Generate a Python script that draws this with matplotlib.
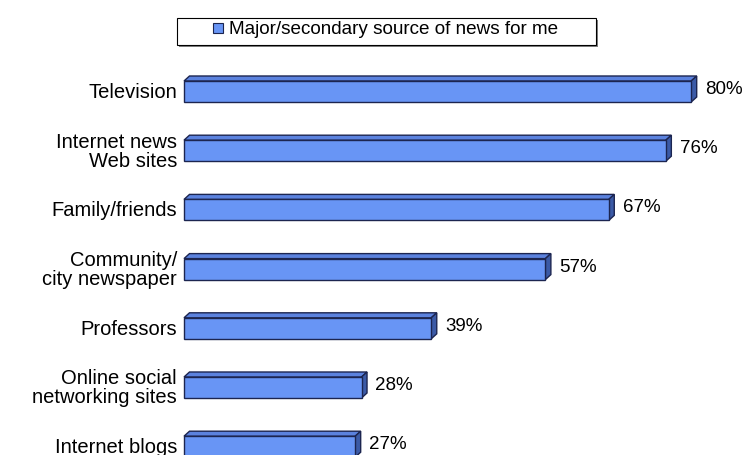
import matplotlib
matplotlib.use("Agg")
import matplotlib.pyplot as plt
from matplotlib.patches import Polygon, Rectangle

plt.rcParams['font.family'] = ['Liberation Sans', 'DejaVu Sans']

categories = [
    "Television",
    "Internet news\nWeb sites",
    "Family/friends",
    "Community/\ncity newspaper",
    "Professors",
    "Online social\nnetworking sites",
    "Internet blogs",
]
values = [80, 76, 67, 57, 39, 28, 27]
series_name = "Major/secondary source of news for me"

FRONT = "#6895f5"
TOP = "#5b82de"
SIDE = "#3b5aa6"
EDGE = "#1c2550"

W, H = 748, 456
fig = plt.figure(figsize=(W / 100, H / 100), dpi=100)
ax_left = 184 / W
ax = fig.add_axes([ax_left, 0, 1 - ax_left, 1])

px_per_unit_x = 6.34
xmax = (W - 184) / px_per_unit_x
ax.set_xlim(0, xmax)

step = 59.2
first_center = 92.5
ax.set_ylim((H - first_center) / step, -first_center / step)

bar_h = 21 / step
dx = 5.5 / px_per_unit_x
dy = 5 / step

for i, v in enumerate(values):
    y0 = i - bar_h / 2
    y1 = i + bar_h / 2
    top = Polygon([(0, y0), (v, y0), (v + dx, y0 - dy), (dx, y0 - dy)],
                  closed=True, facecolor=TOP, edgecolor=EDGE, lw=1.0, clip_on=False)
    side = Polygon([(v, y0), (v + dx, y0 - dy), (v + dx, y1 - dy), (v, y1)],
                   closed=True, facecolor=SIDE, edgecolor=EDGE, lw=1.0, clip_on=False)
    ax.add_patch(top)
    ax.add_patch(side)
    ax.barh(i, v, height=bar_h, left=0, color=FRONT, edgecolor=EDGE, lw=1.0, clip_on=False)
    ax.text(v + 2.2, i - 0.05, f"{v}%", ha="left", va="center", fontsize=13.5, color="black")

ax.set_yticks(range(len(categories)))
ax.set_yticklabels(categories, fontsize=14.5, linespacing=1.0, multialignment="right")
ax.tick_params(axis="y", length=0, pad=5)
for lbl in ax.get_yticklabels():
    lbl.set_va("center")
ax.get_yticklabels()[-1].set_y(len(categories) - 1.06)
ax.set_xticks([])
for s in ax.spines.values():
    s.set_visible(False)
ax.patch.set_alpha(0)

# legend box drawn in figure pixels
def fx(x):
    return x / W

def fy(y):
    return 1 - y / H

fig.patches.append(Rectangle((fx(179), fy(48)), fx(598) - fx(179), fy(21) - fy(48),
                             transform=fig.transFigure, facecolor="#808080",
                             edgecolor="none", zorder=1))
fig.patches.append(Rectangle((fx(177), fy(46)), fx(596) - fx(177), fy(19) - fy(46),
                             transform=fig.transFigure, facecolor="white",
                             edgecolor="black", lw=0.8, zorder=2))
fig.patches.append(Rectangle((fx(213), fy(34)), fx(223) - fx(213), fy(24) - fy(34),
                             transform=fig.transFigure, facecolor=FRONT,
                             edgecolor=EDGE, lw=0.8, zorder=3))
fig.text(fx(229), fy(30), series_name, ha="left", va="center", fontsize=13.6, zorder=4)

fig.savefig("out.png", dpi=100)
